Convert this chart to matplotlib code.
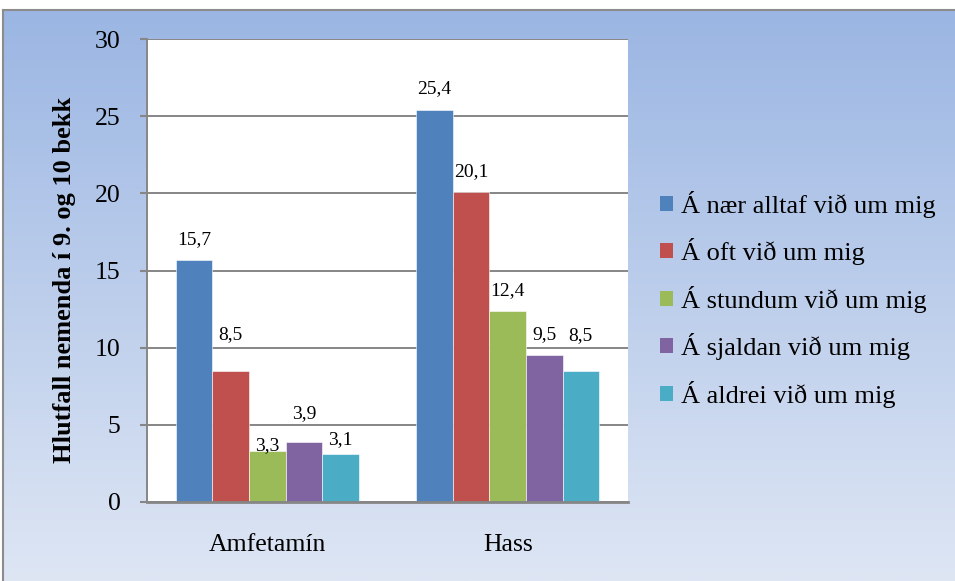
import matplotlib.pyplot as plt
import numpy as np
from matplotlib.patches import Patch

plt.rcParams["font.family"] = ["Liberation Serif", "DejaVu Serif"]

categories = ["Amfetamín", "Hass"]
series = [
    "Á nær alltaf við um mig",
    "Á oft við um mig",
    "Á stundum við um mig",
    "Á sjaldan við um mig",
    "Á aldrei við um mig",
]
values = [
    [15.7, 25.4],
    [8.5, 20.1],
    [3.3, 12.4],
    [3.9, 9.5],
    [3.1, 8.5],
]
colors = ["#4F81BD", "#C0504D", "#9BBB59", "#8064A2", "#4BACC6"]
# label offsets above each bar (points), per series / category
label_offsets = [
    [11.5, 12],
    [23, 11.5],
    [0.7, 11.5],
    [17, 11.5],
    [7, 22],
]

fig = plt.figure(figsize=(9.55, 5.81), dpi=100)

# gradient chart-area background with grey frame
bg = fig.add_axes([3 / 955, 0, 1 - 3 / 955, 571 / 581], zorder=-10)
grad = np.linspace(0, 1, 256)[:, None]
top = np.array([155, 182, 227]) / 255
bottom = np.array([222, 230, 244]) / 255
img = top + (bottom - top) * grad[..., None]
bg.imshow(img, aspect="auto", extent=[0, 1, 0, 1])
bg.set_xticks([])
bg.set_yticks([])
for side in ["right", "bottom"]:
    bg.spines[side].set_visible(False)
for side in ["left", "top"]:
    bg.spines[side].set_color("#8c8c8c")
    bg.spines[side].set_linewidth(1.5)

ax = fig.add_axes([147 / 955, 79 / 581, 481 / 955, 463 / 581])
ax.set_facecolor("white")

x = np.arange(len(categories))
width = 0.152
for i, (name, vals, col) in enumerate(zip(series, values, colors)):
    pos = x + (i - 2) * width
    ax.bar(pos, vals, width=width, color=col, label=name, zorder=3,
           edgecolor="white", linewidth=0.4)
    for px, v, off in zip(pos, vals, label_offsets[i]):
        ax.annotate(f"{v:.1f}".replace(".", ","), (px, v),
                    xytext=(0, off), textcoords="offset points",
                    ha="center", va="baseline", fontsize=14, zorder=4)

ax.set_xlim(-0.5, 1.5)
ax.set_ylim(0, 30)
ax.set_yticks(range(0, 31, 5))
ax.set_xticks(x)
ax.set_xticklabels(categories, fontsize=18.5)
ax.tick_params(axis="y", labelsize=18.5, length=5, width=1.5,
               color="#868686", pad=14)
ax.tick_params(axis="x", length=0, pad=23)
ax.yaxis.grid(True, color="#868686", linewidth=1.4, zorder=0)
ax.set_axisbelow(True)

for side in ["top", "right"]:
    ax.spines[side].set_visible(False)
ax.spines["left"].set_color("#868686")
ax.spines["left"].set_linewidth(1.4)
ax.spines["bottom"].set_color("#868686")
ax.spines["bottom"].set_linewidth(2)
ax.spines["bottom"].set_zorder(5)

ax.set_ylabel("Hlutfall nemenda í 9. og 10 bekk", fontsize=19,
              fontweight="bold")
ax.yaxis.set_label_coords(-0.148, 0.48)

handles = [Patch(facecolor=c, label=s) for c, s in zip(colors, series)]
fig.legend(handles=handles, loc="center left",
           bbox_to_anchor=(660 / 955, 0.485), frameon=False,
           fontsize=19, handlelength=0.5, handleheight=0.5,
           handletextpad=0.3, labelspacing=0.78, borderpad=0,
           borderaxespad=0)

fig.savefig("out.png", dpi=100)
